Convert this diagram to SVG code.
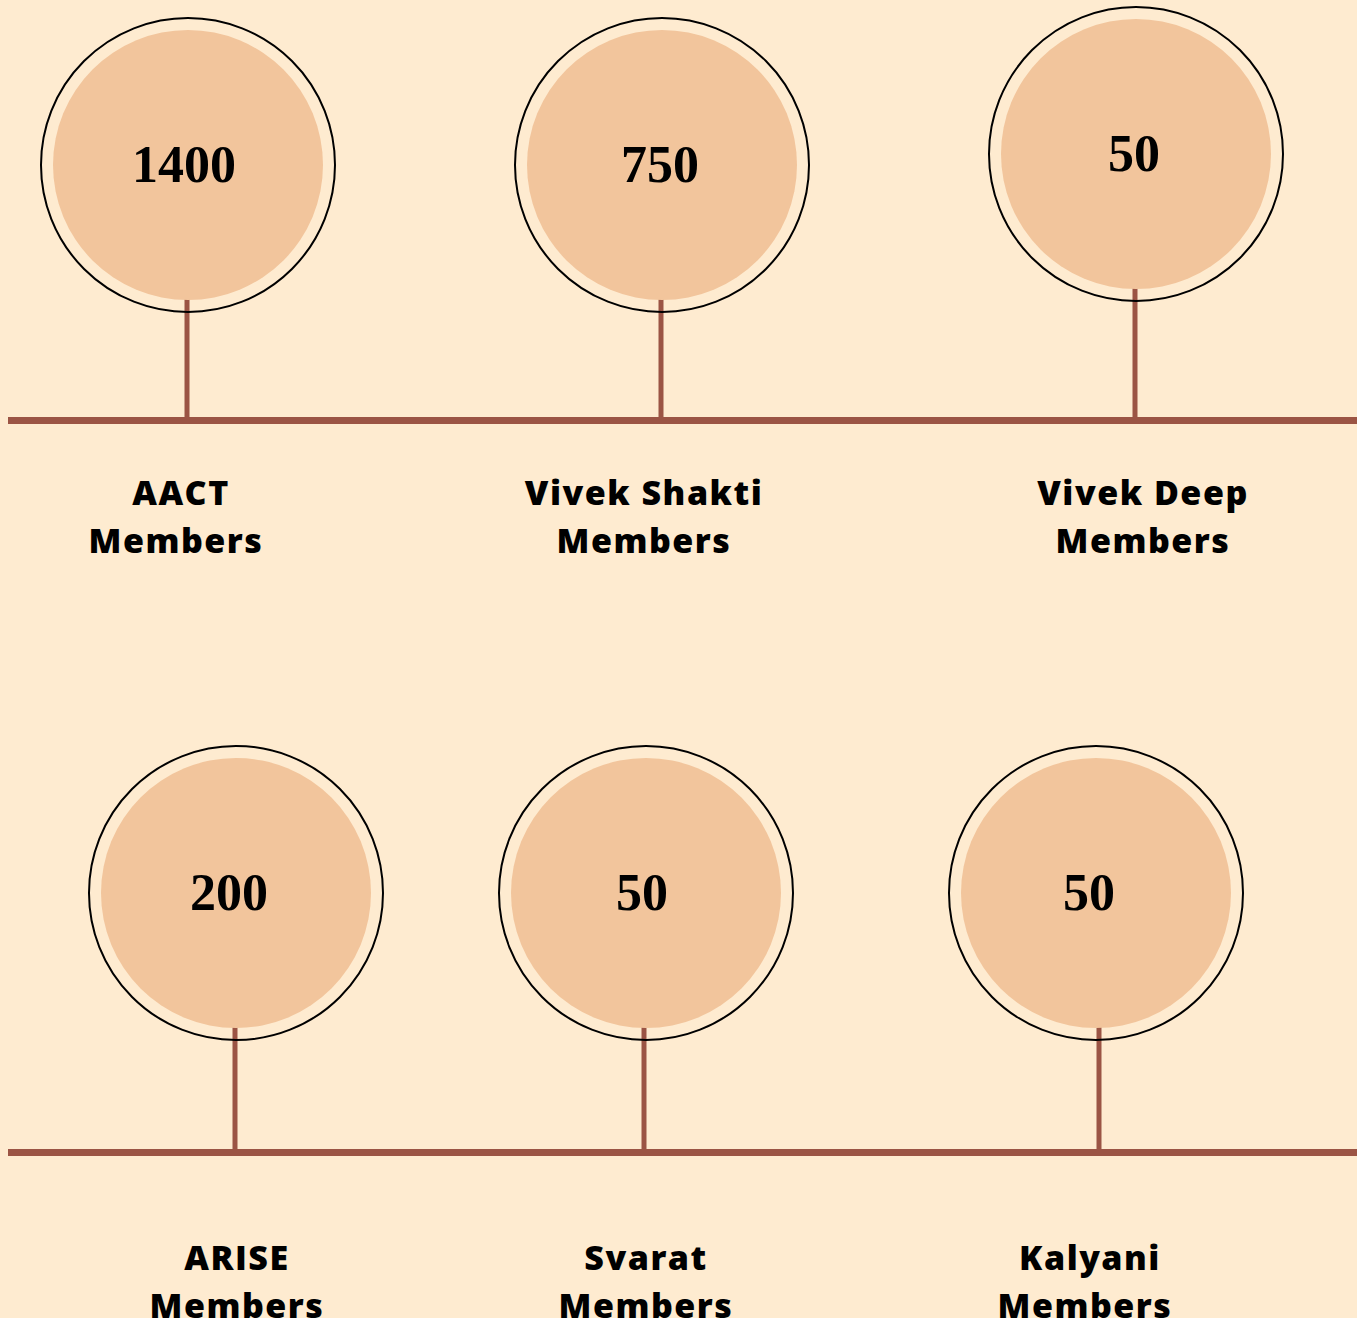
<svg xmlns="http://www.w3.org/2000/svg" width="1357" height="1318" viewBox="0 0 1357 1318">
<style>
.ring{fill:none;stroke:#000;stroke-width:2}
.disc{fill:#F2C59C}
.num{font-family:"Liberation Serif","DejaVu Serif",serif;font-weight:bold;font-size:52px;fill:#000;text-anchor:middle}
.lbl{font-family:"Open Sans","DejaVu Sans",sans-serif;font-weight:800;font-size:34px;letter-spacing:1.5px;fill:#000;text-anchor:middle}
.ln{stroke:#9B5444;fill:none}
</style>
<rect width="1357" height="1318" fill="#FEEBD0"/>
<g id="connectors">
<line class="ln" x1="8" y1="420.5" x2="1357" y2="420.5" stroke-width="7"/>
<line class="ln" x1="8" y1="1152.5" x2="1357" y2="1152.5" stroke-width="7"/>
<line class="ln" x1="187" y1="298" x2="187" y2="420" stroke-width="5"/>
<line class="ln" x1="661" y1="298" x2="661" y2="420" stroke-width="5"/>
<line class="ln" x1="1135" y1="288" x2="1135" y2="420" stroke-width="5"/>
<line class="ln" x1="235" y1="1027" x2="235" y2="1152" stroke-width="5"/>
<line class="ln" x1="644" y1="1027" x2="644" y2="1152" stroke-width="5"/>
<line class="ln" x1="1099" y1="1027" x2="1099" y2="1152" stroke-width="5"/>
</g>
<g id="n1">
<circle class="disc" cx="188" cy="165" r="135"/>
<circle class="ring" cx="188" cy="165" r="147"/>
<text class="num" x="184" y="182">1400</text>
<text class="lbl" x="181" y="505">AACT</text>
<text class="lbl" x="176" y="553">Members</text>
</g>
<g id="n2">
<circle class="disc" cx="662" cy="165" r="135"/>
<circle class="ring" cx="662" cy="165" r="147"/>
<text class="num" x="660" y="182">750</text>
<text class="lbl" x="644" y="505">Vivek Shakti</text>
<text class="lbl" x="644" y="553">Members</text>
</g>
<g id="n3">
<circle class="disc" cx="1136" cy="154" r="135"/>
<circle class="ring" cx="1136" cy="154" r="147"/>
<text class="num" x="1134" y="171">50</text>
<text class="lbl" x="1143" y="505">Vivek Deep</text>
<text class="lbl" x="1143" y="553">Members</text>
</g>
<g id="n4">
<circle class="disc" cx="236" cy="893" r="135"/>
<circle class="ring" cx="236" cy="893" r="147"/>
<text class="num" x="229" y="910">200</text>
<text class="lbl" x="237" y="1270">ARISE</text>
<text class="lbl" x="237" y="1318">Members</text>
</g>
<g id="n5">
<circle class="disc" cx="646" cy="893" r="135"/>
<circle class="ring" cx="646" cy="893" r="147"/>
<text class="num" x="642" y="910">50</text>
<text class="lbl" x="646" y="1270">Svarat</text>
<text class="lbl" x="646" y="1318">Members</text>
</g>
<g id="n6">
<circle class="disc" cx="1096" cy="893" r="135"/>
<circle class="ring" cx="1096" cy="893" r="147"/>
<text class="num" x="1089" y="910">50</text>
<text class="lbl" x="1090" y="1270">Kalyani</text>
<text class="lbl" x="1085" y="1318">Members</text>
</g>
</svg>
